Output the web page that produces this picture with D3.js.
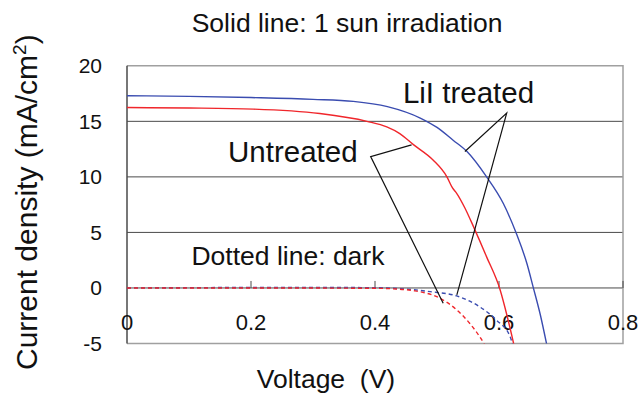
<!DOCTYPE html>
<html><head><meta charset="utf-8">
<script src="https://cdn.jsdelivr.net/npm/d3@7"></script>
<style>body{margin:0;background:#fff}svg{display:block;font-family:"Liberation Sans",Arial,sans-serif}</style>
</head><body>
<svg id="c" width="641" height="393"></svg>
<script>
// ---- data ----
const xTicks = [0, 0.2, 0.4, 0.6, 0.8];
const xTickLabels = ["0", "0.2", "0.4", "0.6", "0.8"];
const yTicks = [-5, 0, 5, 10, 15, 20];
const yTickLabels = ["-5", "0", "5", "10", "15", "20"];

const treatedLightV = [0, 0.1, 0.2, 0.3, 0.365, 0.42, 0.473, 0.5, 0.526, 0.548, 0.58, 0.607, 0.628, 0.645, 0.655, 0.667, 0.677];
const treatedLightJ = [17.3, 17.25, 17.14, 16.98, 16.8, 16.33, 15.3, 14.45, 13.3, 12.3, 10.0, 7.6, 4.9, 2.2, 0.1, -2.5, -5.1];

const untreatedLightV = [0, 0.1, 0.204, 0.311, 0.387, 0.419, 0.44, 0.462, 0.494, 0.516, 0.525, 0.532, 0.545, 0.559, 0.58, 0.602, 0.613, 0.624];
const untreatedLightJ = [16.24, 16.2, 16.1, 15.7, 15.0, 14.5, 13.9, 12.9, 11.5, 10.0, 9.0, 8.5, 7.2, 5.5, 2.8, -0.2, -2.5, -5.1];

const treatedDarkV = [0, 0.2, 0.35, 0.4, 0.45, 0.489, 0.532, 0.569, 0.596, 0.618, 0.622];
const treatedDarkJ = [0, 0.04, 0.04, 0.02, -0.1, -0.33, -0.72, -1.7, -2.9, -4.4, -5.1];

const untreatedDarkV = [0, 0.2, 0.4, 0.43, 0.462, 0.505, 0.532, 0.553, 0.569, 0.578];
const untreatedDarkJ = [0, 0, -0.03, -0.08, -0.24, -0.93, -1.98, -3.2, -4.4, -5.2];

// annotations (data coordinates)
const treatedLabel = {text: "LiI treated", v: 0.445, j: 16.69};
const untreatedLabel = {text: "Untreated", v: 0.163, j: 11.38};
const darkLabel = {text: "Dotted line: dark", v: 0.104, j: 2.07};
const treatedLeader = [[0.545, 12.28], [0.6124, 15.74], [0.532, -0.63]];
const untreatedLeader = [[0.459, 12.88], [0.393, 11.83], [0.510, -1.38]];

// ---- drawing ----
const svg = d3.select("#c");
const x = d3.scaleLinear().domain([0, 0.8]).range([127, 623]);
const y = d3.scaleLinear().domain([-5, 20]).range([343.5, 65.8]);

const clip = svg.append("defs").append("clipPath").attr("id", "plot")
  .append("rect").attr("x", x(0)).attr("y", y(20)).attr("width", x(0.8) - x(0)).attr("height", y(-5) - y(20));

// gridlines
svg.append("g").selectAll("line").data([0, 5, 10, 15]).join("line")
  .attr("x1", x(0)).attr("x2", x(0.8)).attr("y1", d => y(d)).attr("y2", d => y(d))
  .attr("stroke", "#4a4a4a").attr("stroke-width", 1);

// frame (top, right, bottom)
svg.append("path")
  .attr("d", `M${x(0)},${y(20)}H${x(0.8)}V${y(-5)}H${x(0)}`)
  .attr("fill", "none").attr("stroke", "#a0a0a0").attr("stroke-width", 1.5);

// y axis line
svg.append("line").attr("x1", x(0)).attr("x2", x(0)).attr("y1", y(20)).attr("y2", y(-5))
  .attr("stroke", "#4a4a4a").attr("stroke-width", 1.5);

// x ticks on the zero line
svg.append("g").selectAll("line").data(xTicks.slice(1)).join("line")
  .attr("x1", d => x(d)).attr("x2", d => x(d)).attr("y1", y(0)).attr("y2", y(0) - 7)
  .attr("stroke", "#4a4a4a").attr("stroke-width", 1);

// y tick labels
svg.append("g").selectAll("text").data(yTicks).join("text")
  .attr("x", 102).attr("y", d => y(d)).attr("dy", "0.35em")
  .attr("text-anchor", "end").attr("font-size", 21).attr("fill", "#111")
  .text((d, i) => yTickLabels[i]);

// x tick labels
svg.append("g").selectAll("text").data(xTicks).join("text")
  .attr("x", d => x(d)).attr("y", 330)
  .attr("text-anchor", "middle").attr("font-size", 22).attr("fill", "#111")
  .text((d, i) => xTickLabels[i]);

const line = d3.line().x(d => x(d[0])).y(d => y(d[1])).curve(d3.curveMonotoneX);
const zip = (a, b) => a.map((v, i) => [v, b[i]]);
const series = [
  {V: treatedDarkV, J: treatedDarkJ, color: "#3a4cb0", dash: "4,3"},
  {V: untreatedDarkV, J: untreatedDarkJ, color: "#f0262b", dash: "4,3"},
  {V: untreatedLightV, J: untreatedLightJ, color: "#f0262b", dash: null},
  {V: treatedLightV, J: treatedLightJ, color: "#3a4cb0", dash: null}
];
svg.append("g").attr("clip-path", "url(#plot)").selectAll("path").data(series).join("path")
  .attr("d", d => line(zip(d.V, d.J)))
  .attr("fill", "none").attr("stroke", d => d.color).attr("stroke-width", 1.4)
  .attr("stroke-dasharray", d => d.dash);

// leader lines
const ll = d3.line().x(d => x(d[0])).y(d => y(d[1]));
svg.append("g").selectAll("path").data([treatedLeader, untreatedLeader]).join("path")
  .attr("d", ll).attr("fill", "none").attr("stroke", "#111").attr("stroke-width", 1.2);

// annotation labels
svg.append("text").attr("x", x(treatedLabel.v)).attr("y", y(treatedLabel.j))
  .attr("font-size", 29.5).attr("fill", "#111").text(treatedLabel.text);
svg.append("text").attr("x", x(untreatedLabel.v)).attr("y", y(untreatedLabel.j))
  .attr("font-size", 29.5).attr("fill", "#111").text(untreatedLabel.text);
svg.append("text").attr("x", x(darkLabel.v)).attr("y", y(darkLabel.j))
  .attr("font-size", 26.5).attr("fill", "#111").text(darkLabel.text);

// title
svg.append("text").attr("x", 191.7).attr("y", 31.7).attr("font-size", 26.5).attr("fill", "#111")
  .text("Solid line: 1 sun irradiation");

// x axis title
svg.append("text").attr("x", 256.7).attr("y", 388).attr("font-size", 26.5).attr("fill", "#111")
  .style("white-space", "pre").text("Voltage  (V)");

// y axis title
const yt = svg.append("text").attr("transform", "translate(36.7,370) rotate(-90)")
  .attr("font-size", 30).attr("fill", "#111");
yt.append("tspan").text("Current density (mA/cm");
yt.append("tspan").attr("font-size", 19).attr("dy", -11).text("2");
yt.append("tspan").attr("dy", 11).text(")");
</script>
</body></html>
